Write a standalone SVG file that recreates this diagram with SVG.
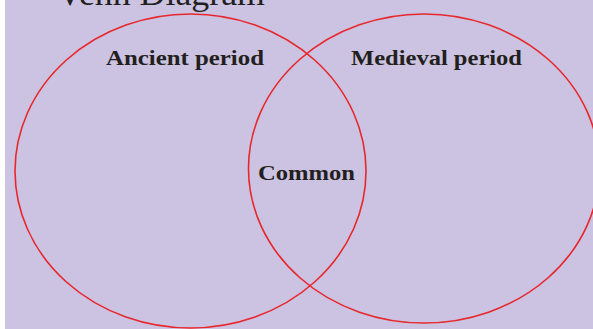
<svg xmlns="http://www.w3.org/2000/svg" width="593" height="329" viewBox="0 0 593 329">
<style>
.set{fill:none;stroke:#e8272c;stroke-width:1.6}
.lbl{font-family:"Liberation Serif",serif;font-weight:bold;font-size:22px;fill:#231f20}
.title{font-family:"Liberation Serif",serif;font-size:34px;fill:#231f20}
</style>
<rect x="0" y="0" width="593" height="329" fill="#ffffff"/>
<rect x="5" y="0" width="588" height="329" fill="#cbc3e1"/>
<text class="title" x="57" y="5" textLength="208" lengthAdjust="spacingAndGlyphs">Venn Diagram</text>
<g id="connectors"></g>
<g id="ancient">
<ellipse class="set" cx="190.5" cy="171" rx="175.5" ry="157"/>
<text class="lbl" x="106" y="65" textLength="158" lengthAdjust="spacingAndGlyphs">Ancient period</text>
</g>
<g id="medieval">
<ellipse class="set" cx="424" cy="168.5" rx="175.5" ry="154.5"/>
<text class="lbl" x="351" y="65" textLength="171" lengthAdjust="spacingAndGlyphs">Medieval period</text>
</g>
<g id="common">
<text class="lbl" x="258" y="180" textLength="97" lengthAdjust="spacingAndGlyphs">Common</text>
</g>
</svg>
